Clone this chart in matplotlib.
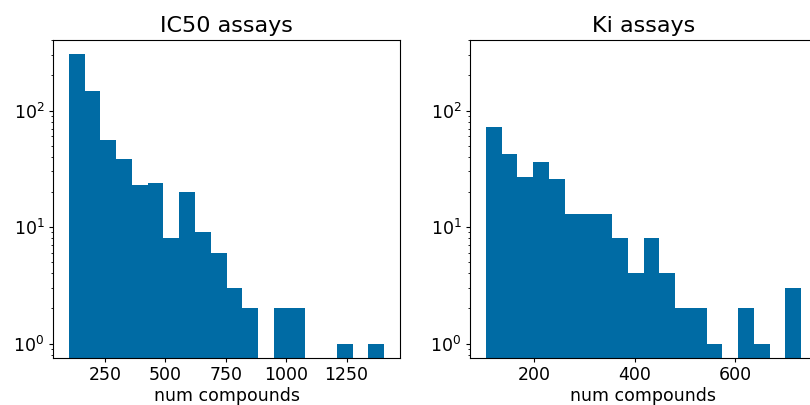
import matplotlib
matplotlib.use("Agg")
import matplotlib.pyplot as plt
import numpy as np

plt.rcParams['font.size'] = 12.5
plt.rcParams['xtick.major.size'] = 2.6
plt.rcParams['ytick.major.size'] = 2.6
plt.rcParams['ytick.minor.size'] = 1.5
plt.rcParams['xtick.major.pad'] = 3.5

# histogram counts per bin (20 bins each)
ic50_range = (101, 1406)
ic50_counts = [303, 148, 56, 38, 23, 24, 8, 20, 9, 6, 3, 2, 0, 2, 2, 0, 0, 1, 0, 1]

ki_range = (104, 731)
ki_counts = [72, 42, 27, 36, 26, 13, 13, 13, 8, 4, 8, 4, 2, 2, 1, 0, 2, 1, 0, 3]

bar_color = '#006BA4'


def plot_hist(ax, counts, rng, title):
    edges = np.linspace(rng[0], rng[1], len(counts) + 1)
    centers = (edges[:-1] + edges[1:]) / 2
    ax.hist(centers, bins=edges, weights=counts, log=True,
            histtype='stepfilled', color=bar_color)
    ax.set_title(title, fontsize=16)
    ax.set_xlabel('num compounds', labelpad=2)


fig, (ax1, ax2) = plt.subplots(1, 2, sharey=True, figsize=(8.1, 4.05), dpi=100)

plot_hist(ax1, ic50_counts, ic50_range, 'IC50 assays')
plot_hist(ax2, ki_counts, ki_range, 'Ki assays')
ax2.tick_params(labelleft=True)

ax1.set_xticks([250, 500, 750, 1000, 1250])
ax2.set_xticks([200, 400, 600])

# right panel runs past the figure edge, as in the reference
ax1.set_position([53 / 810, 47 / 405, 347 / 810, 318 / 405])
ax2.set_position([470 / 810, 47 / 405, 347 / 810, 318 / 405])

fig.savefig('out.png', dpi=100)
